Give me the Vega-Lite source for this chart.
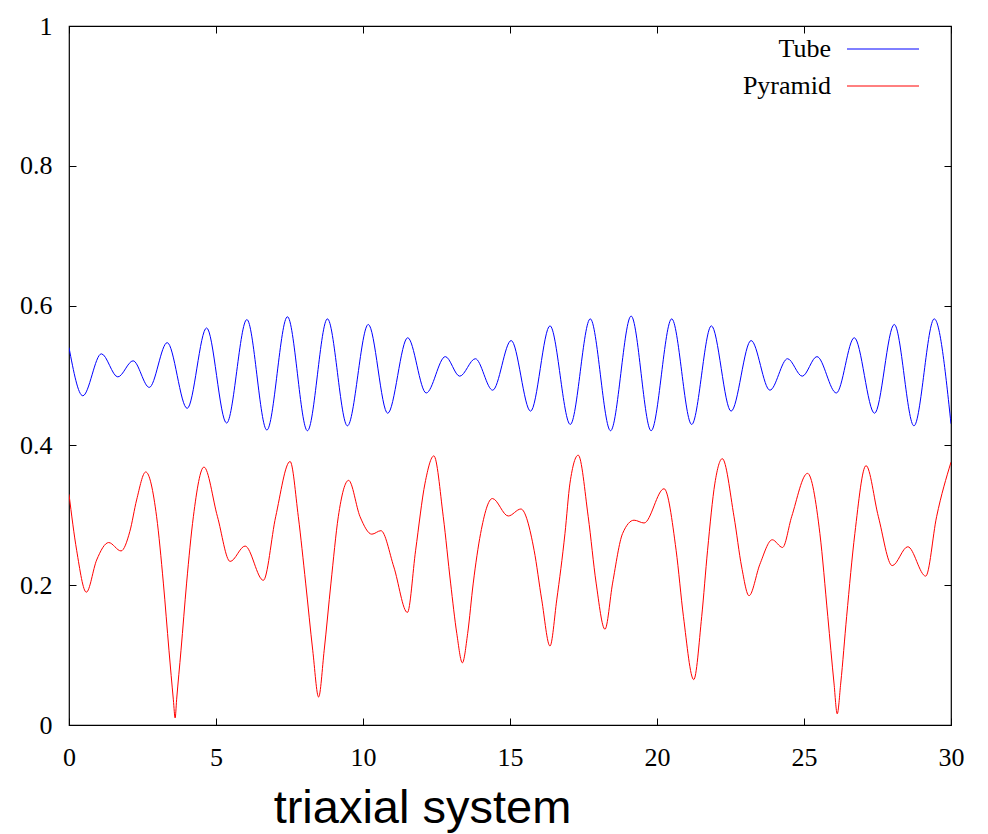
{
  "$schema": "https://vega.github.io/schema/vega-lite/v6.json",
  "width": 882,
  "height": 699,
  "autosize": {"type": "none"},
  "padding": {"left": 69, "top": 26, "right": 37, "bottom": 109},
  "background": "white",
  "config": {
    "view": {"stroke": "#000000", "strokeWidth": 1.2},
    "font": "Liberation Serif"
  },
  "datasets": {
    "curves": [
      {"s":"Tube","x":0,"y":0.54},{"s":"Tube","x":0.47,"y":0.471},{"s":"Tube","x":1.10,"y":0.531},{"s":"Tube","x":1.66,"y":0.498},{"s":"Tube","x":2.18,"y":0.521},{"s":"Tube","x":2.73,"y":0.483},{"s":"Tube","x":3.34,"y":0.547},{"s":"Tube","x":4.02,"y":0.453},{"s":"Tube","x":4.68,"y":0.568},{"s":"Tube","x":5.36,"y":0.432},{"s":"Tube","x":6.05,"y":0.580},{"s":"Tube","x":6.73,"y":0.422},{"s":"Tube","x":7.43,"y":0.584},{"s":"Tube","x":8.11,"y":0.421},{"s":"Tube","x":8.79,"y":0.581},{"s":"Tube","x":9.47,"y":0.428},{"s":"Tube","x":10.18,"y":0.573},{"s":"Tube","x":10.84,"y":0.446},{"s":"Tube","x":11.52,"y":0.554},{"s":"Tube","x":12.15,"y":0.475},{"s":"Tube","x":12.80,"y":0.527},{"s":"Tube","x":13.29,"y":0.499},{"s":"Tube","x":13.82,"y":0.524},{"s":"Tube","x":14.41,"y":0.479},{"s":"Tube","x":15.04,"y":0.550},{"s":"Tube","x":15.70,"y":0.449},{"s":"Tube","x":16.36,"y":0.571},{"s":"Tube","x":17.05,"y":0.430},{"s":"Tube","x":17.73,"y":0.581},{"s":"Tube","x":18.42,"y":0.421},{"s":"Tube","x":19.12,"y":0.585},{"s":"Tube","x":19.80,"y":0.421},{"s":"Tube","x":20.50,"y":0.581},{"s":"Tube","x":21.18,"y":0.430},{"s":"Tube","x":21.85,"y":0.571},{"s":"Tube","x":22.52,"y":0.449},{"s":"Tube","x":23.20,"y":0.550},{"s":"Tube","x":23.84,"y":0.479},{"s":"Tube","x":24.44,"y":0.524},{"s":"Tube","x":24.94,"y":0.499},{"s":"Tube","x":25.44,"y":0.527},{"s":"Tube","x":26.10,"y":0.475},{"s":"Tube","x":26.71,"y":0.554},{"s":"Tube","x":27.40,"y":0.446},{"s":"Tube","x":28.07,"y":0.573},{"s":"Tube","x":28.74,"y":0.428},{"s":"Tube","x":29.43,"y":0.581},{"s":"Tube","x":30,"y":0.431},
      {"s":"Pyramid","x":0,"y":0.330},{"s":"Pyramid","x":0.26,"y":0.250},{"s":"Pyramid","x":0.59,"y":0.190},{"s":"Pyramid","x":0.94,"y":0.236},{"s":"Pyramid","x":1.35,"y":0.261},{"s":"Pyramid","x":1.77,"y":0.249},{"s":"Pyramid","x":2.07,"y":0.277},{"s":"Pyramid","x":2.30,"y":0.322},{"s":"Pyramid","x":2.61,"y":0.362},{"s":"Pyramid","x":2.98,"y":0.298},{"s":"Pyramid","x":3.21,"y":0.203},{"s":"Pyramid","x":3.40,"y":0.107},{"s":"Pyramid","x":3.55,"y":0.036},{"s":"Pyramid","x":3.61,"y":0.010},{"s":"Pyramid","x":3.66,"y":0.036},{"s":"Pyramid","x":3.81,"y":0.107},{"s":"Pyramid","x":4.00,"y":0.203},{"s":"Pyramid","x":4.23,"y":0.298},{"s":"Pyramid","x":4.59,"y":0.369},{"s":"Pyramid","x":5.05,"y":0.298},{"s":"Pyramid","x":5.48,"y":0.234},{"s":"Pyramid","x":5.99,"y":0.256},{"s":"Pyramid","x":6.61,"y":0.207},{"s":"Pyramid","x":7.03,"y":0.298},{"s":"Pyramid","x":7.52,"y":0.377},{"s":"Pyramid","x":7.80,"y":0.298},{"s":"Pyramid","x":8.05,"y":0.203},{"s":"Pyramid","x":8.29,"y":0.107},{"s":"Pyramid","x":8.49,"y":0.040},{"s":"Pyramid","x":8.68,"y":0.107},{"s":"Pyramid","x":8.91,"y":0.203},{"s":"Pyramid","x":9.16,"y":0.298},{"s":"Pyramid","x":9.51,"y":0.350},{"s":"Pyramid","x":9.90,"y":0.298},{"s":"Pyramid","x":10.30,"y":0.273},{"s":"Pyramid","x":10.61,"y":0.278},{"s":"Pyramid","x":11.05,"y":0.226},{"s":"Pyramid","x":11.51,"y":0.161},{"s":"Pyramid","x":11.79,"y":0.250},{"s":"Pyramid","x":12.11,"y":0.346},{"s":"Pyramid","x":12.41,"y":0.385},{"s":"Pyramid","x":12.73,"y":0.298},{"s":"Pyramid","x":12.98,"y":0.203},{"s":"Pyramid","x":13.19,"y":0.131},{"s":"Pyramid","x":13.38,"y":0.089},{"s":"Pyramid","x":13.56,"y":0.131},{"s":"Pyramid","x":13.75,"y":0.203},{"s":"Pyramid","x":14.00,"y":0.274},{"s":"Pyramid","x":14.40,"y":0.324},{"s":"Pyramid","x":14.94,"y":0.299},{"s":"Pyramid","x":15.37,"y":0.309},{"s":"Pyramid","x":15.82,"y":0.250},{"s":"Pyramid","x":16.08,"y":0.179},{"s":"Pyramid","x":16.36,"y":0.113},{"s":"Pyramid","x":16.59,"y":0.179},{"s":"Pyramid","x":16.87,"y":0.274},{"s":"Pyramid","x":17.04,"y":0.346},{"s":"Pyramid","x":17.32,"y":0.386},{"s":"Pyramid","x":17.66,"y":0.298},{"s":"Pyramid","x":17.93,"y":0.203},{"s":"Pyramid","x":18.23,"y":0.137},{"s":"Pyramid","x":18.49,"y":0.203},{"s":"Pyramid","x":18.83,"y":0.274},{"s":"Pyramid","x":19.22,"y":0.293},{"s":"Pyramid","x":19.56,"y":0.289},{"s":"Pyramid","x":20.24,"y":0.338},{"s":"Pyramid","x":20.65,"y":0.250},{"s":"Pyramid","x":20.90,"y":0.155},{"s":"Pyramid","x":21.25,"y":0.065},{"s":"Pyramid","x":21.52,"y":0.155},{"s":"Pyramid","x":21.72,"y":0.250},{"s":"Pyramid","x":21.97,"y":0.346},{"s":"Pyramid","x":22.22,"y":0.381},{"s":"Pyramid","x":22.62,"y":0.298},{"s":"Pyramid","x":22.88,"y":0.226},{"s":"Pyramid","x":23.13,"y":0.185},{"s":"Pyramid","x":23.50,"y":0.230},{"s":"Pyramid","x":23.92,"y":0.265},{"s":"Pyramid","x":24.27,"y":0.254},{"s":"Pyramid","x":24.58,"y":0.298},{"s":"Pyramid","x":25.12,"y":0.360},{"s":"Pyramid","x":25.54,"y":0.274},{"s":"Pyramid","x":25.81,"y":0.155},{"s":"Pyramid","x":26.02,"y":0.060},{"s":"Pyramid","x":26.13,"y":0.016},{"s":"Pyramid","x":26.25,"y":0.060},{"s":"Pyramid","x":26.45,"y":0.155},{"s":"Pyramid","x":26.73,"y":0.274},{"s":"Pyramid","x":27.11,"y":0.371},{"s":"Pyramid","x":27.53,"y":0.298},{"s":"Pyramid","x":28.00,"y":0.228},{"s":"Pyramid","x":28.53,"y":0.255},{"s":"Pyramid","x":29.14,"y":0.213},{"s":"Pyramid","x":29.51,"y":0.298},{"s":"Pyramid","x":30,"y":0.376}
    ]
  },
  "data": {"name": "curves"},
  "layer": [
    {
      "mark": {"type": "line", "interpolate": "monotone", "strokeWidth": 1, "clip": true},
      "encoding": {
        "x": {
          "field": "x", "type": "quantitative",
          "scale": {"domain": [0, 30], "nice": false, "zero": false},
          "axis": {
            "orient": "bottom", "values": [0, 5, 10, 15, 20, 25, 30],
            "domain": false, "grid": false, "tickSize": -7, "tickColor": "#000000", "tickWidth": 1,
            "labelFont": "Liberation Serif", "labelFontSize": 26, "labelColor": "#000000",
            "labelPadding": 26, "labelFlush": false, "labelOverlap": false,
            "title": "triaxial system", "titleFont": "Liberation Sans", "titleFontSize": 47,
            "titleFontWeight": "normal", "titleColor": "#000000",
            "titleX": 353, "titleY": 97, "titleAlign": "center", "titleBaseline": "alphabetic", "titleAnchor": null
          }
        },
        "y": {
          "field": "y", "type": "quantitative",
          "scale": {"domain": [0, 1], "nice": false, "zero": false},
          "axis": {
            "orient": "left", "values": [0, 0.2, 0.4, 0.6, 0.8, 1], "format": "~g",
            "domain": false, "grid": false, "tickSize": -7, "tickColor": "#000000", "tickWidth": 1,
            "labelFont": "Liberation Serif", "labelFontSize": 26, "labelColor": "#000000",
            "labelPadding": 24, "labelFlush": false, "labelOverlap": false, "title": null
          }
        },
        "color": {
          "field": "s", "type": "nominal",
          "scale": {"domain": ["Tube", "Pyramid"], "range": ["#0000ff", "#ff0000"]},
          "legend": {
            "title": null, "orient": "none", "legendX": 801, "legendY": 10,
            "padding": 0, "symbolType": "M-3,0H3", "symbolSize": 576, "symbolStrokeWidth": 1,
            "symbolFillColor": "transparent",
            "labelFont": "Liberation Serif", "labelFontSize": 26, "labelColor": "#000000",
            "labelAlign": "right", "labelOffset": -65, "rowPadding": 11
          }
        }
      }
    },
    {
      "mark": {"type": "point", "opacity": 0},
      "encoding": {
        "x": {
          "field": "x", "type": "quantitative",
          "axis": {"orient": "top", "values": [0, 5, 10, 15, 20, 25, 30], "domain": false, "grid": false, "labels": false, "tickSize": -7, "tickColor": "#000000", "tickWidth": 1, "title": null}
        },
        "y": {
          "field": "y", "type": "quantitative",
          "axis": {"orient": "right", "values": [0, 0.2, 0.4, 0.6, 0.8, 1], "domain": false, "grid": false, "labels": false, "tickSize": -7, "tickColor": "#000000", "tickWidth": 1, "title": null}
        }
      }
    }
  ],
  "resolve": {"axis": {"x": "independent", "y": "independent"}}
}
